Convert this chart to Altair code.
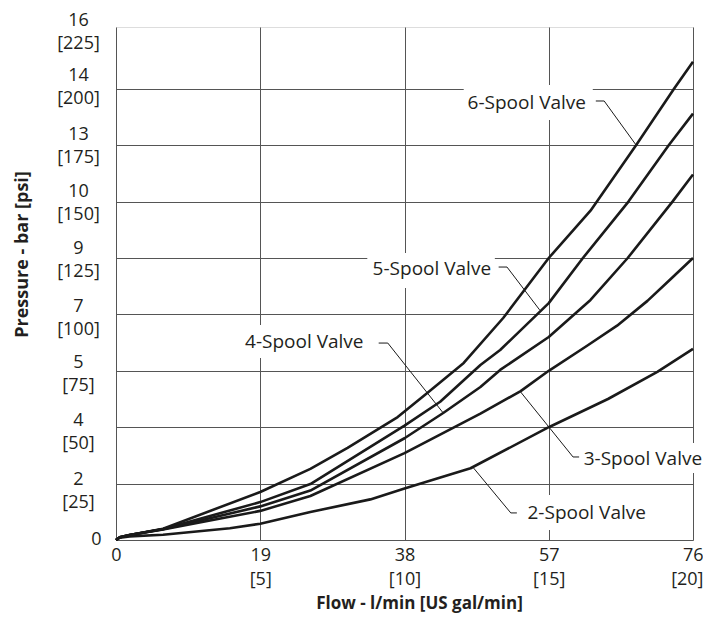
import altair as alt
import pandas as pd

# ---- curve data (flow l/min, pressure psi) ----
flow_2 = [0, 0.5, 1.8, 6.2, 15, 19, 25.6, 33.5, 38, 46.7, 57, 64.8, 71.3, 76]
psi_2 = [0, 1.0, 1.6, 2.3, 5.2, 7.2, 12.4, 18.0, 22.8, 31.8, 50, 62.5, 74.5, 84.7]

flow_3 = [0, 0.5, 1.8, 6.2, 19, 25.6, 38, 48, 53.3, 57, 62, 66, 70, 73, 76]
psi_3 = [0, 1.2, 2.2, 4.7, 12.9, 19.5, 38.5, 56, 66, 75, 86, 95, 106, 115.5, 125]

flow_4 = [0, 0.5, 1.8, 6.2, 19, 25.6, 38, 43.1, 48, 50.6, 57, 62.5, 67.4, 73.3, 76]
psi_4 = [0, 1.2, 2.2, 4.8, 14.9, 21.9, 45.1, 56.3, 67.8, 75.4, 90, 106.4, 125, 150, 162]

flow_5 = [0, 0.5, 1.8, 6.2, 19, 25.6, 38, 42.7, 48, 50.6, 57, 61.5, 67.5, 72.8, 76]
psi_5 = [0, 1.2, 2.2, 4.9, 16.8, 24.8, 50.7, 61.3, 77.6, 84.2, 105, 125, 150, 175, 189]

flow_6 = [0, 0.5, 1.8, 6.2, 19, 25.6, 30.5, 37.1, 41, 45.8, 51, 57, 62.5, 68.5, 73.5, 76]
psi_6 = [0, 1.2, 2.2, 5.0, 21.3, 31.5, 40.8, 54.5, 65.2, 78.5, 98.4, 125, 146, 175, 200, 212]

series_names = ["2-Spool Valve", "3-Spool Valve", "4-Spool Valve", "5-Spool Valve", "6-Spool Valve"]
series_flow = [flow_2, flow_3, flow_4, flow_5, flow_6]
series_psi = [psi_2, psi_3, psi_4, psi_5, psi_6]

# ---- tick labels ----
x_ticks = [0, 19, 38, 57, 76]
x_tick_gal = ["", "[5]", "[10]", "[15]", "[20]"]
y_ticks = [0, 25, 50, 75, 100, 125, 150, 175, 200, 225]
y_tick_bar = ["0", "2", "4", "5", "7", "9", "10", "13", "14", "16"]

# ---- annotation labels (data units) ----
ann_label = ["6-Spool Valve", "5-Spool Valve", "4-Spool Valve", "3-Spool Valve", "2-Spool Valve"]
ann_text_x = [46.3, 33.8, 17.0, 61.6, 54.2]
ann_text_y = [193.7, 120.1, 87.9, 35.9, 12.0]
ann_box_x1 = [45.8, 33.1, 16.4, 61.2, 53.3]
ann_box_x2 = [62.8, 49.9, 33.5, 77.8, 70.2]
ann_box_y1 = [186.2, 111.7, 80.7, 29.7, 4.4]
ann_box_y2 = [201.7, 127.2, 95.3, 43.0, 19.9]
leader_x = [[63.2, 64.3, 68.5], [50.4, 51.5, 55.8], [34.6, 35.8, 43.1], [53.3, 60.2, 61.0], [47.1, 52.0, 52.8]]
leader_y = [[194.6, 194.6, 175.1], [121.0, 121.0, 102.0], [87.3, 87.3, 56.3], [65.6, 36.8, 36.8], [31.9, 12.0, 12.0]]

FONT = "Open Sans"
TXT = "#231f20"

rows = []
for name, fl, ps in zip(series_names, series_flow, series_psi):
    for i, (f, p) in enumerate(zip(fl, ps)):
        rows.append({"series": name, "flow": f, "psi": p, "ord": i})
curves = pd.DataFrame(rows)

boxes = pd.DataFrame({"label": ann_label, "x1": ann_box_x1, "x2": ann_box_x2,
                      "y1": ann_box_y1, "y2": ann_box_y2,
                      "tx": ann_text_x, "ty": ann_text_y})
lrows = []
for name, lx, ly in zip(ann_label, leader_x, leader_y):
    for i, (a, b) in enumerate(zip(lx, ly)):
        lrows.append({"label": name, "lx": a, "ly": b, "ord": i})
leaders = pd.DataFrame(lrows)


def build_expr(values, first, second):
    expr = "''"
    for v, a, b in reversed(list(zip(values, first, second))):
        if b:
            lab = "['%s','%s']" % (a, b)
        else:
            lab = "'%s'" % a
        expr = "datum.value === %s ? %s : (%s)" % (v, lab, expr)
    return expr


x_expr = build_expr(x_ticks, [str(v) for v in x_ticks], x_tick_gal)
y_expr = build_expr(y_ticks, y_tick_bar, ["" if v == 0 else "[%d]" % v for v in y_ticks])

# per-label vertical nudge of the two-line y labels (style only)
y_label_nudge = {0: -1, 25: -4, 50: -7, 75: -8, 100: -8, 125: -10, 150: -10, 175: -11, 200: -13, 225: -12}
y_offset_cond = {"condition": [{"test": "datum.value === %d" % k, "value": v}
                               for k, v in y_label_nudge.items()], "value": 0}

x_scale = alt.Scale(domain=[0, 76], nice=False, zero=False)
y_scale = alt.Scale(domain=[0, 227.4], nice=False, zero=False)

x_axis = alt.Axis(values=x_ticks, labelExpr=x_expr, grid=True, gridColor="#555555",
                  gridWidth=1, ticks=False, domain=False, labelPadding=6,
                  labelOffset={"condition": {"test": "datum.value === 76", "value": 10}, "value": 0},
                  labelAlign={"condition": {"test": "datum.value === 76", "value": "right"}, "value": "center"},
                  labelBaseline="top", labelFlush=False,
                  labelOverlap=False, labelFont=FONT, labelFontSize=18,
                  labelLineHeight=24, labelColor=TXT,
                  title="Flow - l/min [US gal/min]", titleFont=FONT, titleFontSize=17,
                  titleFontWeight="bold", titleColor=TXT, titleX=303, titleY=63,
                  titleBaseline="middle", titleAlign="center")
y_axis = alt.Axis(values=y_ticks, labelExpr=y_expr, grid=True, gridColor="#555555",
                  gridWidth=1,
                  gridOpacity={"condition": {"test": "datum.value === 225", "value": 0}, "value": 1},
                  ticks=False, domain=False,
                  labelPadding={"condition": {"test": "datum.value === 0", "value": 20}, "value": 38},
                  labelOffset=y_offset_cond,
                  labelAlign="center", labelBaseline="middle", labelFlush=False,
                  labelOverlap=False, labelFont=FONT, labelFontSize=18,
                  labelLineHeight=23, labelColor=TXT,
                  title="Pressure - bar [psi]", titleFont=FONT, titleFontSize=18,
                  titleFontWeight="bold", titleColor=TXT, titleX=-94, titleY=227,
                  titleBaseline="middle", titleAlign="center", titleAngle=270)

box_layer = alt.Chart(boxes).mark_rect(fill="white", stroke=None).encode(
    x=alt.X("x1:Q", scale=x_scale, axis=x_axis),
    x2="x2:Q",
    y=alt.Y("y1:Q", scale=y_scale, axis=y_axis),
    y2="y2:Q",
)

curve_layer = alt.Chart(curves).mark_line(color="#1a1a1a", strokeWidth=2.6, strokeJoin="round").encode(
    x=alt.X("flow:Q", scale=x_scale),
    y=alt.Y("psi:Q", scale=y_scale),
    detail="series:N",
    order="ord:Q",
)

leader_layer = alt.Chart(leaders).mark_line(color="#1a1a1a", strokeWidth=1).encode(
    x=alt.X("lx:Q", scale=x_scale),
    y=alt.Y("ly:Q", scale=y_scale),
    detail="label:N",
    order="ord:Q",
)

text_layer = alt.Chart(boxes).mark_text(align="left", baseline="middle", font=FONT,
                                        fontSize=19, color=TXT).encode(
    x=alt.X("tx:Q", scale=x_scale),
    y=alt.Y("ty:Q", scale=y_scale),
    text="label:N",
)

chart = alt.layer(box_layer, curve_layer, leader_layer, text_layer).properties(
    width=577, height=513,
    autosize=alt.AutoSizeParams(type="none"),
    padding={"left": 108, "top": 19, "right": 10, "bottom": 76},
).configure_view(stroke="black", strokeWidth=1.5).configure(background="white")

chart.save("out.html", embed_options={"renderer": "svg", "actions": False})
